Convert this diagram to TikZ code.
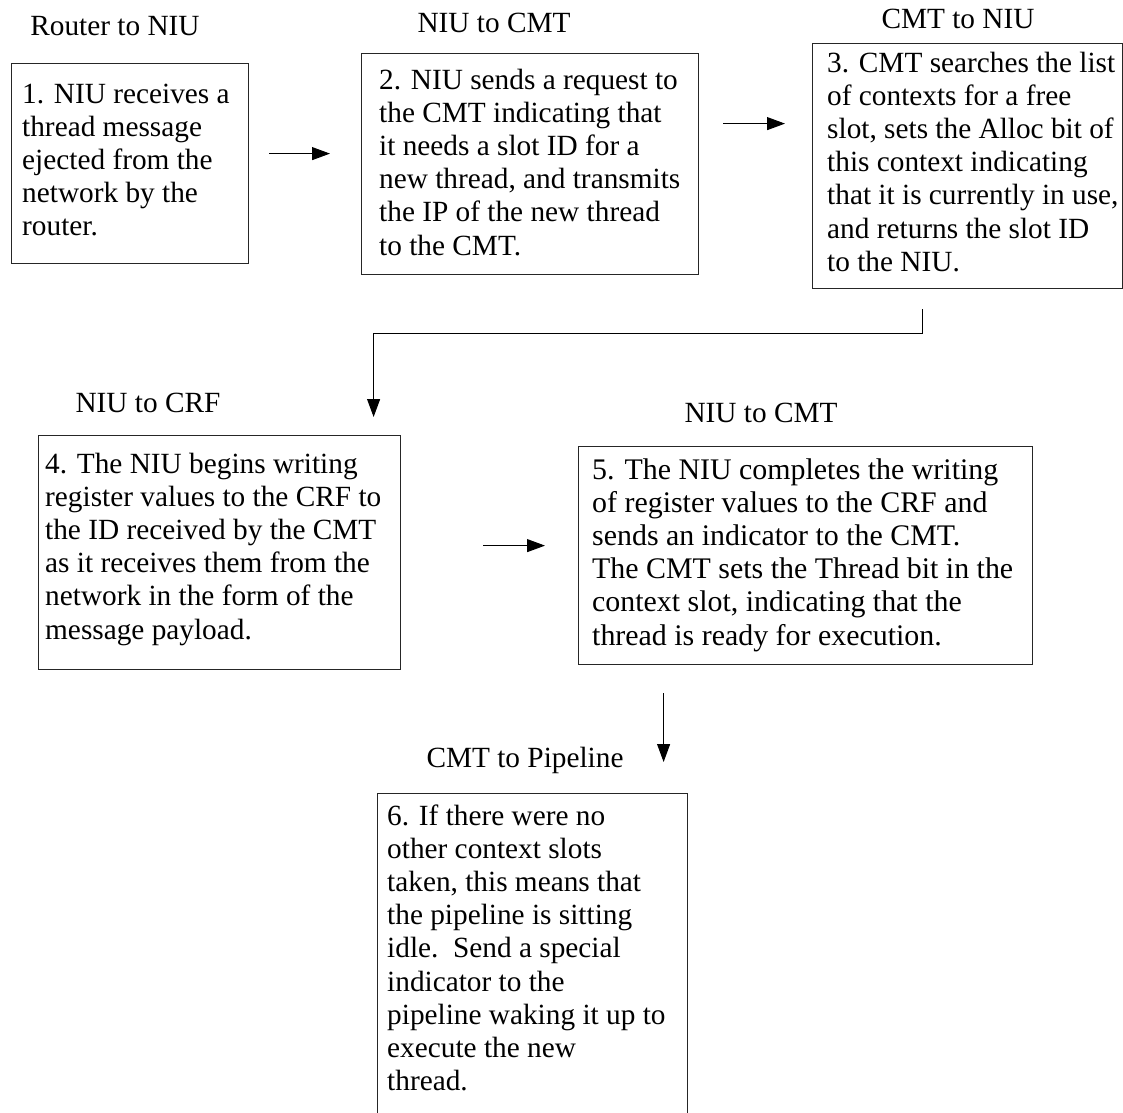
\documentclass[tikz,border=0pt]{standalone}
\usepackage{fontspec}
\setmainfont{Liberation Serif}
\usetikzlibrary{arrows.meta,calc}
\begin{document}
\begin{tikzpicture}[x=1pt,y=-1pt,
  stepbox/.style={draw=black!85, line width=1.2pt, anchor=north west, inner sep=0pt},
  steptext/.style={anchor=north west, inner sep=0pt, align=left,
    font=\fontsize{29.3}{33.2}\selectfont},
  steplabel/.style={anchor=base, inner sep=0pt,
    font=\fontsize{29.3}{33.2}\selectfont},
  flow/.style={line width=1pt, -{Triangle[length=18pt,width=13pt]}}]

\useasboundingbox (0,0) rectangle (1123,1112);

% step boxes
\node[stepbox, minimum width=237pt, minimum height=200pt] (b1) at (11,63) {};
\node[stepbox, minimum width=337pt, minimum height=221pt] (b2) at (361,53) {};
\node[stepbox, minimum width=310pt, minimum height=245pt] (b3) at (812,43) {};
\node[stepbox, minimum width=362pt, minimum height=234pt] (b4) at (38,435) {};
\node[stepbox, minimum width=454pt, minimum height=218pt] (b5) at (578,446) {};
\node[stepbox, minimum width=310pt, minimum height=321pt] (b6) at (377,793) {};

% box texts
\node[steptext] (t1) at ($(b1.north west)+(11,16.7)$) {\strut 1. NIU receives a\\thread message\\ejected from the\\network by the\\router.};
\node[steptext] (t2) at ($(b2.north west)+(18,12.7)$) {\strut 2. NIU sends a request to\\the CMT indicating that\\it needs a slot ID for a\\new thread, and transmits\\the IP of the new thread\\to the CMT.};
\node[steptext] (t3) at ($(b3.north west)+(15,5.7)$) {\strut 3. CMT searches the list\\of contexts for a free\\slot, sets the Alloc bit of\\this context indicating\\that it is currently in use,\\and returns the slot ID\\to the NIU.};
\node[steptext] (t4) at ($(b4.north west)+(7,14.7)$) {\strut 4. The NIU begins writing\\register values to the CRF to\\the ID received by the CMT\\as it receives them from the\\network in the form of the\\message payload.};
\node[steptext, font=\fontsize{29.9}{33.2}\selectfont] (t5) at ($(b5.north west)+(14,9.7)$) {\strut 5. The NIU completes the writing\\of register values to the CRF and\\sends an indicator to the CMT.\\The CMT sets the Thread bit in the\\context slot, indicating that the\\thread is ready for execution.};
\node[steptext] (t6) at ($(b6.north west)+(10,8.7)$) {\strut 6. If there were no\\other context slots\\taken, this means that\\the pipeline is sitting\\idle.\ \ Send a special\\indicator to the\\pipeline waking it up to\\execute the new\\thread.};

% stage labels
\node[steplabel] (l1) at (115,35) {Router to NIU};
\node[steplabel] (l2) at (494,32) {NIU to CMT};
\node[steplabel] (l3) at (958,28) {CMT to NIU};
\node[steplabel] (l4) at (148,412) {NIU to CRF};
\node[steplabel] (l5) at (761,422) {NIU to CMT};
\node[steplabel] (l6) at (525,767) {CMT to Pipeline};

% flow arrows
\draw[flow] ($(b1.east)+(20,-10)$) -- ($(b2.west)+(-31,-10.5)$);
\draw[flow] ($(b2.east)+(24,-40.5)$) -- ($(b3.west)+(-27,-42.5)$);
\draw[flow] ($(b3.south)+(-45,20)$) -- ++(0,24) -| ($(b4.north)+(154,-18)$);
\draw[flow] ($(b4.east)+(82,-7)$) -- ($(b5.west)+(-33,-10)$);
\draw[flow] ($(b5.south)+(-142,28)$) -- ($(b6.north)+(131,-31)$);

\end{tikzpicture}
\end{document}
